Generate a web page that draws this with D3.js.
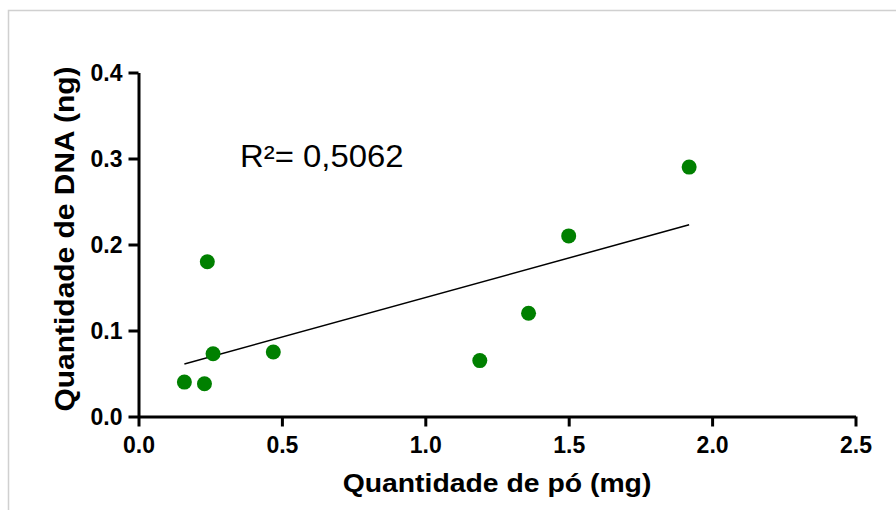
<!DOCTYPE html>
<html>
<head>
<meta charset="utf-8">
<script src="https://cdn.jsdelivr.net/npm/d3@7.9.0/dist/d3.min.js"></script>
<style>
  body { margin: 0; background: #fff; }
  svg { display: block; font-family: Arial, "Liberation Sans", sans-serif; }
  .tick text { font-weight: bold; font-size: 23px; fill: #000; }
</style>
</head>
<body>
<svg width="896" height="510"></svg>
<script>
// quantidade de pó (mg) vs quantidade de DNA (ng)
const po = [0.16, 0.23, 0.26, 0.47, 0.24, 1.19, 1.36, 1.50, 1.92];
const dna = [0.040, 0.038, 0.073, 0.075, 0.180, 0.065, 0.120, 0.210, 0.290];
const xTicks = [0.0, 0.5, 1.0, 1.5, 2.0, 2.5];
const yTicks = [0.0, 0.1, 0.2, 0.3, 0.4];
const r2Label = "R²= 0,5062";

const svg = d3.select("svg");

// light frame round the picture
svg.append("path")
  .attr("d", "M8.5,510 V10.5 H896")
  .attr("fill", "none")
  .attr("stroke", "#d0d0d0")
  .attr("stroke-width", 1.5);

const x = d3.scaleLinear().domain([0, 2.5]).range([138.5, 855.5]);
const y = d3.scaleLinear().domain([0, 0.4]).range([416.5, 72.5]);

let xAxis = svg.append("g")
  .attr("transform", `translate(0,${y(0)})`)
  .call(d3.axisBottom(x).tickValues(xTicks).tickFormat(d3.format(".1f"))
    .tickSize(10).tickSizeOuter(0).tickPadding(10));

let yAxis = svg.append("g")
  .attr("transform", `translate(${x(0)},0)`)
  .call(d3.axisLeft(y).tickValues(yTicks).tickFormat(d3.format(".1f"))
    .tickSize(10).tickSizeOuter(0).tickPadding(6));

[xAxis, yAxis].forEach(ax => {
  ax.select(".domain").attr("stroke", "#000").attr("stroke-width", 3);
  ax.selectAll(".tick line").attr("stroke", "#000").attr("stroke-width", 3);
});
yAxis.selectAll(".tick text").attr("dy", "0.36em");

// linear regression line, over the range of the data
const data = po.map((v, i) => ({ x: v, y: dna[i] }));
const mx = d3.mean(po), my = d3.mean(dna);
const slope = d3.sum(data, d => (d.x - mx) * (d.y - my)) / d3.sum(data, d => (d.x - mx) ** 2);
const icpt = my - slope * mx;
const [x0, x1] = d3.extent(po);

svg.append("line")
  .attr("x1", x(x0)).attr("y1", y(icpt + slope * x0))
  .attr("x2", x(x1)).attr("y2", y(icpt + slope * x1))
  .attr("stroke", "#000")
  .attr("stroke-width", 1.5);

svg.selectAll("circle.pt")
  .data(data)
  .join("circle")
  .attr("class", "pt")
  .attr("cx", d => x(d.x))
  .attr("cy", d => y(d.y))
  .attr("r", 7.5)
  .attr("fill", "#008000");

svg.append("text")
  .attr("transform", "translate(240,167) scale(1.06,1)")
  .attr("font-size", 31)
  .attr("fill", "#000")
  .text(r2Label);

svg.append("text")
  .attr("transform", `translate(${(x(0) + x(2.5)) / 2},492) scale(1.07,1)`)
  .attr("text-anchor", "middle")
  .attr("font-size", 26.5)
  .attr("font-weight", "bold")
  .text("Quantidade de pó (mg)");

svg.append("text")
  .attr("transform", "translate(73.5,239) rotate(-90) scale(1.07,1)")
  .attr("text-anchor", "middle")
  .attr("font-size", 28)
  .attr("font-weight", "bold")
  .text("Quantidade de DNA (ng)");
</script>
</body>
</html>
